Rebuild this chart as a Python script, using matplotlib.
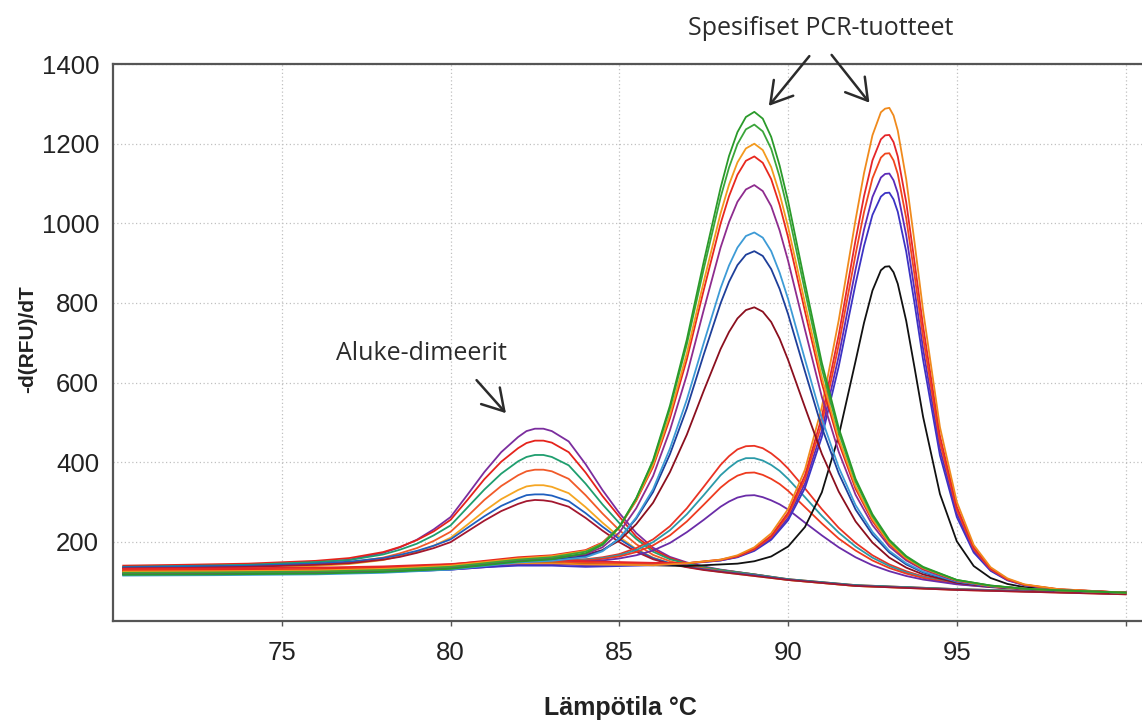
import matplotlib.pyplot as plt

plt.rcParams['font.family'] = ['Liberation Sans', 'DejaVu Sans']

# -d(RFU)/dT melt curves, one list per well

# wells with a primer-dimer peak only (~82.5 degC)
temp_dimer = [70.3, 72, 74, 76, 77, 78, 78.5, 79, 79.5, 80, 80.5, 81, 81.5, 82, 82.25,
              82.5, 82.75, 83, 83.5, 84, 84.5, 85, 85.5, 86, 86.5, 87, 87.5, 88, 89, 90,
              92, 95, 100]
dimer_purple = [135, 137, 140, 148, 155, 172, 186, 205, 231, 262, 318, 375, 425, 463, 478,
                484, 484, 478, 452, 395, 330, 272, 222, 185, 162, 148, 138, 130, 118, 105,
                90, 80, 69]
dimer_red = [140, 142, 145, 152, 159, 174, 187, 204, 226, 255, 305, 357, 401, 435, 448,
             454, 454, 449, 425, 374, 315, 263, 213, 180, 159, 146, 136, 129, 118, 106,
             91, 81, 70]
dimer_green = [137, 139, 142, 149, 154, 168, 180, 195, 216, 241, 286, 331, 371, 402, 413,
               418, 418, 413, 392, 346, 294, 247, 207, 175, 156, 145, 136, 129, 118, 106,
               91, 81, 70]
dimer_vermilion = [132, 134, 136, 143, 148, 160, 171, 184, 202, 225, 264, 305, 340, 367, 377,
                   381, 381, 377, 358, 317, 271, 229, 194, 167, 151, 141, 133, 126, 116, 104,
                   89, 79, 68]
dimer_orange = [129, 131, 133, 139, 144, 154, 164, 175, 190, 210, 243, 277, 307, 330, 339,
                342, 342, 338, 322, 287, 248, 212, 182, 160, 146, 137, 130, 124, 114, 104,
                89, 80, 69]
dimer_blue = [136, 138, 140, 145, 150, 159, 167, 177, 190, 206, 235, 264, 290, 309, 317,
              319, 319, 316, 302, 272, 238, 207, 180, 159, 146, 137, 131, 125, 116, 105,
              90, 80, 69]
dimer_crimson = [133, 134, 137, 142, 146, 155, 162, 172, 184, 199, 226, 253, 277, 295, 302,
                 305, 304, 301, 288, 260, 228, 199, 175, 156, 144, 136, 129, 124, 114, 104,
                 89, 79, 68]

# wells with the ~89 degC product
temp_p89 = [70.3, 73, 76, 78, 80, 81, 82, 83, 84, 84.5, 85, 85.5, 86, 86.5, 87, 87.5, 88,
            88.25, 88.5, 88.75, 89, 89.25, 89.5, 89.75, 90, 90.5, 91, 91.5, 92, 92.5, 93,
            93.5, 94, 95, 96, 97, 98, 100]
p89_green1 = [117, 118, 120, 124, 132, 141, 150, 156, 171, 192, 236, 309, 405, 542, 708, 903, 1089,
              1169, 1229, 1267, 1280, 1263, 1217, 1145, 1056, 850, 650, 486, 358, 269, 205,
              164, 137, 104, 90, 82, 78, 72]
p89_green2 = [122, 123, 125, 129, 137, 146, 155, 161, 175, 195, 238, 309, 402, 535, 696, 885, 1065,
              1140, 1199, 1236, 1248, 1231, 1187, 1117, 1030, 830, 635, 475, 351, 264, 202,
              162, 135, 104, 90, 82, 78, 72]
p89_orange = [125, 126, 128, 132, 140, 149, 158, 164, 177, 196, 237, 305, 393, 520, 673, 853, 1025,
              1097, 1153, 1188, 1200, 1184, 1141, 1074, 991, 800, 613, 460, 340, 257, 197,
              159, 134, 103, 89, 82, 78, 72]
p89_red = [128, 129, 131, 135, 143, 152, 161, 166, 179, 198, 237, 303, 388, 510, 658, 832, 999,
           1068, 1122, 1157, 1168, 1152, 1111, 1046, 965, 779, 598, 449, 333, 252, 194,
           157, 132, 103, 89, 82, 78, 72]
p89_purple = [120, 121, 123, 127, 135, 144, 153, 158, 169, 186, 223, 284, 365, 480, 619, 782, 939,
              1003, 1054, 1085, 1096, 1081, 1043, 982, 906, 733, 564, 426, 318, 242, 188,
              153, 130, 101, 89, 82, 78, 72]
p89_skyblue = [115, 116, 118, 122, 130, 139, 148, 152, 161, 176, 208, 261, 332, 434, 557, 699, 837,
               894, 939, 968, 977, 964, 930, 876, 810, 658, 509, 387, 292, 225, 177,
               146, 125, 100, 88, 82, 78, 72]
p89_navy = [119, 120, 122, 126, 134, 143, 151, 155, 164, 178, 208, 258, 325, 420, 535, 670, 799,
            853, 895, 921, 930, 918, 885, 835, 772, 628, 487, 372, 281, 218, 173,
            143, 123, 99, 88, 82, 78, 72]
p89_maroon = [126, 127, 129, 133, 141, 150, 158, 161, 167, 179, 203, 244, 298, 375, 469, 579, 684,
              727, 761, 782, 789, 778, 752, 710, 657, 538, 421, 326, 251, 198, 160,
              135, 118, 97, 87, 81, 78, 72]
p89_red_low = [122, 123, 125, 128, 134, 141, 148, 152, 156, 161, 169, 184, 206, 239, 284, 338, 393,
               415, 432, 440, 441, 435, 422, 405, 384, 334, 282, 235, 197, 166, 143,
               126, 113, 96, 87, 82, 78, 72]
p89_teal_low = [120, 121, 123, 126, 132, 139, 146, 149, 155, 159, 166, 179, 199, 229, 269, 317, 367,
                386, 402, 410, 410, 404, 393, 378, 358, 312, 265, 223, 188, 160, 139,
                123, 111, 96, 87, 82, 78, 72]
p89_red2_low = [125, 126, 128, 131, 137, 144, 150, 154, 153, 157, 163, 174, 191, 216, 251, 293, 336,
                353, 366, 373, 374, 368, 358, 345, 328, 287, 246, 208, 178, 153, 134,
                120, 109, 94, 86, 82, 78, 72]
p89_purple_low = [118, 119, 121, 124, 130, 136, 143, 146, 151, 153, 158, 166, 178, 197, 224, 255, 288,
                  301, 311, 316, 317, 312, 304, 294, 281, 248, 216, 186, 161, 141, 126,
                  114, 105, 93, 86, 81, 78, 72]

# wells with the ~93 degC product
temp_p93 = [70.3, 73, 76, 78, 80, 81, 82, 83, 84, 85, 86, 87, 88, 88.5, 89, 89.5, 90, 90.5,
            91, 91.5, 92, 92.25, 92.5, 92.75, 92.875, 93, 93.125, 93.25, 93.5, 93.75, 94,
            94.5, 95, 95.5, 96, 96.5, 97, 98, 100]
p93_orange = [124, 125, 127, 130, 136, 142, 146, 146, 143, 142, 141, 146, 155, 166, 186, 221, 282, 381,
              538, 756, 1009, 1126, 1221, 1279, 1288, 1290, 1271, 1233, 1111, 950, 781,
              488, 300, 192, 136, 108, 93, 81, 72]
p93_red1 = [132, 133, 135, 138, 144, 150, 154, 154, 151, 149, 147, 146, 155, 164, 183, 215, 273, 367,
            514, 719, 958, 1068, 1158, 1211, 1221, 1222, 1204, 1168, 1053, 901, 742,
            466, 288, 186, 133, 106, 92, 81, 72]
p93_red2 = [128, 129, 131, 134, 140, 146, 150, 150, 147, 146, 145, 146, 154, 163, 181, 212, 267, 357,
            497, 694, 922, 1028, 1113, 1165, 1175, 1176, 1158, 1124, 1013, 868, 714,
            450, 280, 182, 131, 105, 92, 80, 72]
p93_violet = [122, 123, 125, 128, 134, 140, 144, 144, 141, 142, 142, 146, 153, 162, 179, 208, 260, 346,
              479, 666, 884, 984, 1066, 1115, 1124, 1125, 1108, 1076, 970, 831, 685,
              433, 271, 177, 129, 104, 91, 80, 72]
p93_blue = [118, 119, 121, 124, 130, 136, 140, 140, 137, 139, 141, 145, 153, 161, 177, 205, 254, 335,
            463, 640, 848, 943, 1021, 1067, 1076, 1077, 1060, 1029, 929, 797, 657,
            417, 262, 173, 127, 103, 91, 80, 72]
p93_black = [126, 127, 129, 132, 138, 144, 148, 148, 145, 143, 141, 139, 143, 145, 151, 163, 188, 237,
             324, 466, 654, 750, 831, 882, 891, 892, 877, 848, 755, 636, 514,
             320, 201, 139, 109, 94, 86, 79, 72]

curves = [
    (temp_dimer, dimer_purple, '#7b2d9e'),
    (temp_dimer, dimer_red, '#e5231b'),
    (temp_dimer, dimer_green, '#1f9e6e'),
    (temp_dimer, dimer_vermilion, '#f15a29'),
    (temp_dimer, dimer_orange, '#f5a623'),
    (temp_dimer, dimer_blue, '#1f5fbf'),
    (temp_dimer, dimer_crimson, '#a3172f'),
    (temp_p89, p89_red_low, '#ea3323'),
    (temp_p89, p89_teal_low, '#2b9aa8'),
    (temp_p89, p89_red2_low, '#ee3b1f'),
    (temp_p89, p89_purple_low, '#6a2ca8'),
    (temp_p93, p93_black, '#111111'),
    (temp_p93, p93_blue, '#3b33c4'),
    (temp_p93, p93_violet, '#5b2bb8'),
    (temp_p93, p93_red2, '#f0461e'),
    (temp_p93, p93_red1, '#e5262a'),
    (temp_p93, p93_orange, '#f08a1c'),
    (temp_p89, p89_maroon, '#8b0f1e'),
    (temp_p89, p89_navy, '#1e3f9a'),
    (temp_p89, p89_skyblue, '#3d9bd6'),
    (temp_p89, p89_purple, '#8e2c8e'),
    (temp_p89, p89_red, '#e8281e'),
    (temp_p89, p89_orange, '#f39a1e'),
    (temp_p89, p89_green2, '#3aa53a'),
    (temp_p89, p89_green1, '#2a9a2a'),
]

fig = plt.figure(figsize=(11.42, 7.2), dpi=100)
ax = fig.add_axes([0.099, 0.137, 0.9014, 0.774])

for temps, values, color in curves:
    ax.plot(temps, values, color=color, lw=1.3)

ax.set_xlim(70, 100.5)
ax.set_ylim(0, 1400)
ax.set_xticks([75, 80, 85, 90, 95, 100])
ax.set_xticklabels(['75', '80', '85', '90', '95', ''])
ax.set_yticks([200, 400, 600, 800, 1000, 1200, 1400])

ax.grid(True, ls=(0, (1, 2)), color='#c0c0c0', lw=0.9)
ax.set_axisbelow(True)
ax.spines['right'].set_visible(False)
for side in ['left', 'bottom', 'top']:
    ax.spines[side].set_color('#555555')
    ax.spines[side].set_linewidth(1.6)

ax.tick_params(axis='x', length=3.6, width=1, color='#555555', pad=10.5,
               labelsize=18.5, labelcolor='#222222')
ax.tick_params(axis='y', length=0, pad=10, labelsize=18.5, labelcolor='#222222')

ax.set_xlabel('Lämpötila °C', fontsize=18, fontweight='bold', color='#222222')
ax.xaxis.set_label_coords(0.4925, -0.134)
ax.set_ylabel('-d(RFU)/dT', fontsize=15, fontweight='bold', color='#222222')
ax.yaxis.set_label_coords(-0.074, 0.507)

# annotations
note_font = dict(family=['Open Sans', 'DejaVu Sans'], fontsize=18, color='#2b2b2b')
arrow = dict(arrowstyle='->,head_length=0.75,head_width=0.45', color='#2b2b2b', lw=1.8,
             shrinkA=0, shrinkB=0, mutation_scale=20)

ax.text(90.96, 1490, 'Spesifiset PCR-tuotteet', ha='center', va='center', clip_on=False,
        **note_font)
ax.annotate('', xy=(89.43, 1295), xytext=(90.63, 1420), arrowprops=arrow,
            annotation_clip=False)
ax.annotate('', xy=(92.41, 1303), xytext=(91.29, 1423), arrowprops=arrow,
            annotation_clip=False)

ax.text(79.15, 672, 'Aluke-dimeerit', ha='center', va='center', **note_font)
ax.annotate('', xy=(81.64, 523), xytext=(80.77, 606), arrowprops=arrow)

fig.savefig('out.png', dpi=100)
